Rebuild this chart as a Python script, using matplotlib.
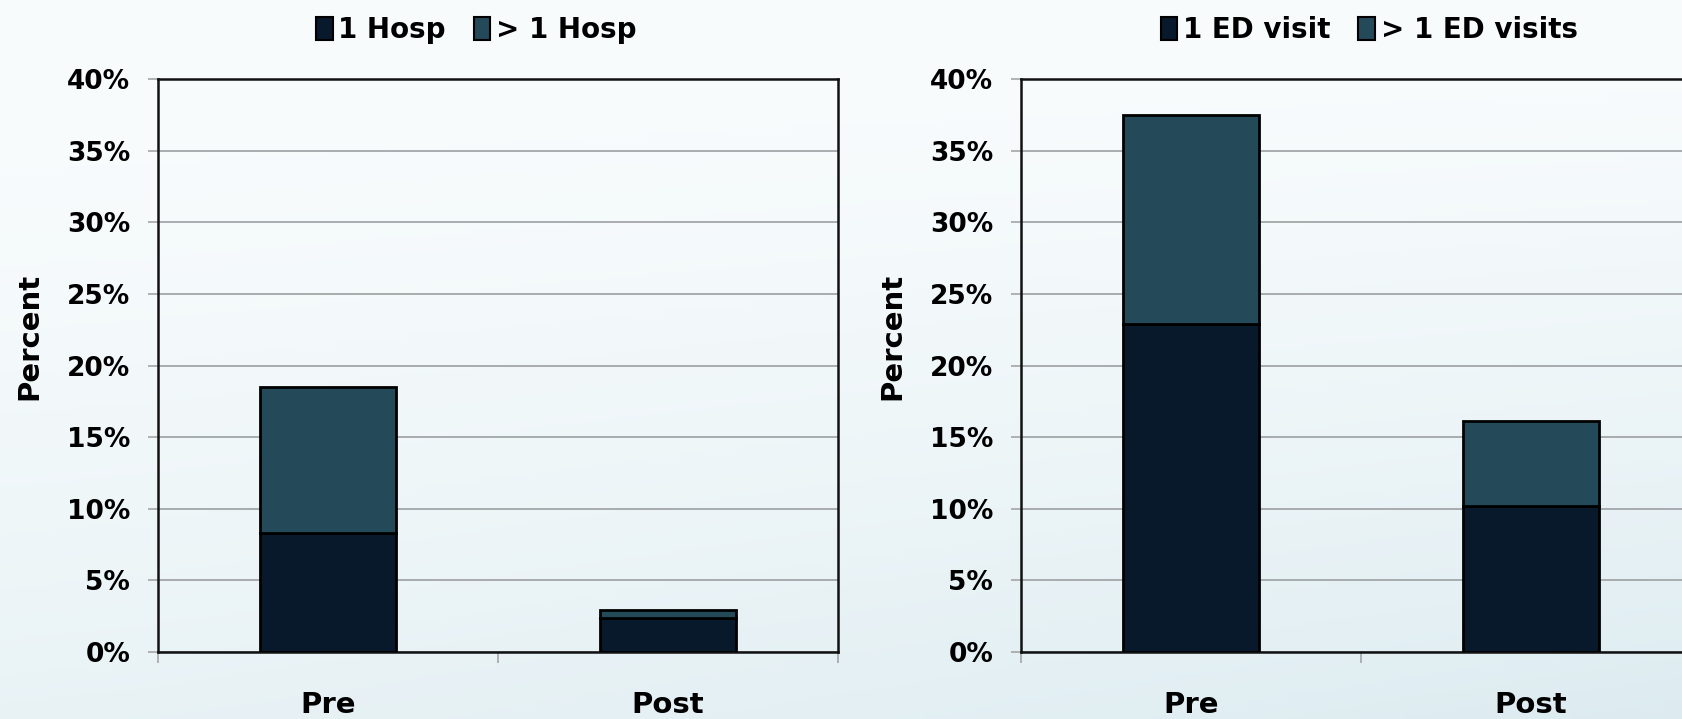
from matplotlib import pyplot as plt
from matplotlib.patches import Patch
import numpy as np

# two stacked-bar panels: hospitalisations and ED visits, before/after
periods = ["Pre", "Post"]

hosp_one = [8.3, 2.4]
hosp_more = [10.2, 0.5]
hosp_labels = ["1 Hosp", "> 1 Hosp"]

ed_one = [22.9, 10.2]
ed_more = [14.6, 5.9]
ed_labels = ["1 ED visit", "> 1 ED visits"]

y_ticks = [0, 5, 10, 15, 20, 25, 30, 35, 40]

dark = "#08192b"
teal = "#244a5a"
grid_gray = "#a3a6a8"

plt.rcParams["font.family"] = ["DejaVu Sans"]
plt.rcParams["font.weight"] = "bold"

fig = plt.figure(figsize=(16.82, 7.19), dpi=100)

# soft light-blue backdrop, lighter at the top
bg = fig.add_axes([0, 0, 1, 1], zorder=-10)
yy, xx = np.mgrid[0:1:200j, 0:1:200j]
shade = 0.55 * yy ** 1.6 + 0.4 * (xx * yy) ** 1.2
top = np.array([0.975, 0.988, 0.992])
bottom = np.array([0.86, 0.92, 0.94])
img = top[None, None, :] * (1 - shade[..., None]) + bottom[None, None, :] * shade[..., None]
bg.imshow(img, extent=[0, 1, 0, 1], aspect="auto", origin="upper")
bg.axis("off")


def draw_panel(rect, one, more, labels, legend_x):
    ax = fig.add_axes(rect)
    ax.set_facecolor("none")
    x = np.arange(len(periods))
    ax.bar(x, one, width=0.4, color=dark, edgecolor="black", linewidth=2, zorder=3)
    ax.bar(x, more, width=0.4, bottom=one, color=teal, edgecolor="black", linewidth=2, zorder=3)

    ax.set_xlim(-0.5, 1.5)
    ax.set_ylim(0, 40)
    ax.set_yticks(y_ticks)
    ax.set_yticklabels([f"{t}%" for t in y_ticks], fontsize=19, fontweight="bold")
    ax.set_xticks(x)
    ax.set_xticklabels(periods, fontsize=21, fontweight="bold")
    ax.set_xticks([-0.5, 0.5, 1.5], minor=True)
    ax.tick_params(axis="x", which="major", length=0, pad=28)
    ax.tick_params(axis="x", which="minor", length=8, width=1.2, color=grid_gray)
    ax.tick_params(axis="y", length=7, width=1.2, color=grid_gray, pad=13)

    ax.yaxis.grid(True, color=grid_gray, lw=1.3)
    ax.set_axisbelow(True)
    for side in ax.spines.values():
        side.set_linewidth(1.8)
        side.set_color("#111111")

    ax.set_ylabel("Percent", fontsize=21, fontweight="bold")
    ax.yaxis.set_label_coords(-0.168, 0.55)

    handles = [Patch(facecolor=dark, edgecolor="black", lw=1.5),
               Patch(facecolor=teal, edgecolor="black", lw=1.5)]
    ax.legend(handles, labels, loc="center", bbox_to_anchor=(legend_x, 1.085),
              ncol=2, frameon=False, prop={"weight": "bold", "size": 20},
              handlelength=0.6, handleheight=0.9, handletextpad=0.2, columnspacing=1.0)
    return ax


draw_panel([0.0939, 0.0932, 0.4043, 0.7969], hosp_one, hosp_more, hosp_labels, 0.468)
draw_panel([0.6070, 0.0932, 0.4043, 0.7969], ed_one, ed_more, ed_labels, 0.512)

plt.savefig("out.png", dpi=100)
